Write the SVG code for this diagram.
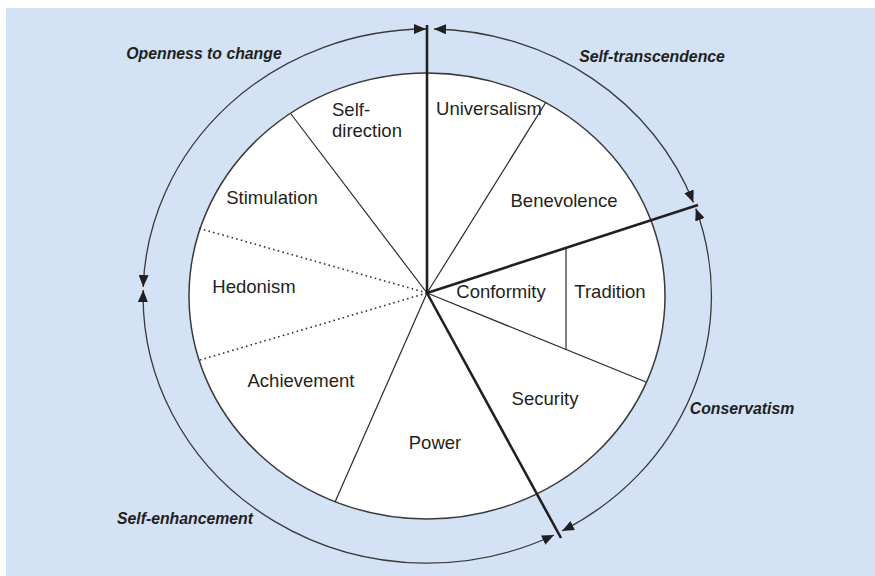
<svg xmlns="http://www.w3.org/2000/svg" width="875" height="576" viewBox="0 0 875 576">
  <style>
    .bg { fill: #d3e2f5; }
    .ring { fill: none; stroke: #3a3a3a; stroke-width: 1.3; }
    .disc { fill: #ffffff; stroke: #3a3a3a; stroke-width: 1.5; }
    .thin { stroke: #2a2a2a; stroke-width: 1.2; fill: none; }
    .thick { stroke: #231f20; stroke-width: 2.6; fill: none; }
    .dot { stroke: #333; stroke-width: 1.6; stroke-dasharray: 1.6 3.2; fill: none; }
    .lbl { font-family: "Liberation Sans", Arial, sans-serif; font-size: 18.5px; fill: #231f20; text-anchor: middle; }
    .grp { font-family: "Liberation Sans", Arial, sans-serif; font-size: 15.8px; font-weight: bold; font-style: italic; fill: #231f20; text-anchor: middle; }
  </style>
  <defs>
    <marker id="arrow" viewBox="0 0 12 10" refX="12" refY="5" markerWidth="12" markerHeight="10" markerUnits="userSpaceOnUse" orient="auto-start-reverse">
      <path d="M0,0 L12,5 L0,10 z" fill="#231f20"/>
    </marker>
  </defs>

  <rect class="bg" x="6" y="8" width="869" height="568"/>

  <!-- outer ring arcs with arrowheads, one per higher-order group -->
  <g id="connectors">
    <path class="ring" marker-start="url(#arrow)" marker-end="url(#arrow)" d="M143.2,287 A284 267 0 0 1 426,29"/>
    <path class="ring" marker-start="url(#arrow)" marker-end="url(#arrow)" d="M434,29 A284 267 0 0 1 693.4,202.5"/>
    <path class="ring" marker-start="url(#arrow)" marker-end="url(#arrow)" d="M695.8,208.5 A284 267 0 0 1 562,531"/>
    <path class="ring" marker-start="url(#arrow)" marker-end="url(#arrow)" d="M554,535 A284 267 0 0 1 143.2,290"/>

    <!-- value circle -->
    <ellipse class="disc" cx="427" cy="296" rx="238" ry="223"/>

    <!-- segment boundaries -->
    <line class="thin" x1="427" y1="293" x2="291" y2="114"/>
    <line class="thin" x1="427" y1="293" x2="546" y2="102"/>
    <line class="dot" x1="427" y1="293" x2="198" y2="228"/>
    <line class="dot" x1="427" y1="293" x2="200" y2="360"/>
    <line class="thin" x1="427" y1="293" x2="335" y2="502"/>
    <line class="thin" x1="427" y1="293" x2="646" y2="382"/>
    <line class="thin" x1="566" y1="247.5" x2="566" y2="349.5"/>

    <!-- group dividers -->
    <line class="thick" x1="427" y1="294" x2="427" y2="25"/>
    <line class="thick" x1="427" y1="293" x2="698" y2="205"/>
    <line class="thick" x1="427" y1="293" x2="561" y2="538"/>
  </g>

  <!-- higher-order groups -->
  <g id="openness"><text class="grp" x="204" y="59">Openness to change</text></g>
  <g id="self-transcendence"><text class="grp" x="652" y="62">Self-transcendence</text></g>
  <g id="conservatism"><text class="grp" x="742" y="414">Conservatism</text></g>
  <g id="self-enhancement"><text class="grp" x="185" y="524">Self-enhancement</text></g>

  <!-- values -->
  <g id="self-direction">
    <text class="lbl" style="text-anchor:start" x="332" y="116">Self-</text>
    <text class="lbl" style="text-anchor:start" x="332" y="137">direction</text>
  </g>
  <g id="universalism"><text class="lbl" x="489" y="115">Universalism</text></g>
  <g id="benevolence"><text class="lbl" x="564" y="207">Benevolence</text></g>
  <g id="stimulation"><text class="lbl" x="272" y="204">Stimulation</text></g>
  <g id="hedonism"><text class="lbl" x="254" y="293">Hedonism</text></g>
  <g id="conformity"><text class="lbl" x="501" y="298">Conformity</text></g>
  <g id="tradition"><text class="lbl" x="610" y="298">Tradition</text></g>
  <g id="achievement"><text class="lbl" x="301" y="387">Achievement</text></g>
  <g id="security"><text class="lbl" x="545" y="405">Security</text></g>
  <g id="power"><text class="lbl" x="435" y="449">Power</text></g>
</svg>
